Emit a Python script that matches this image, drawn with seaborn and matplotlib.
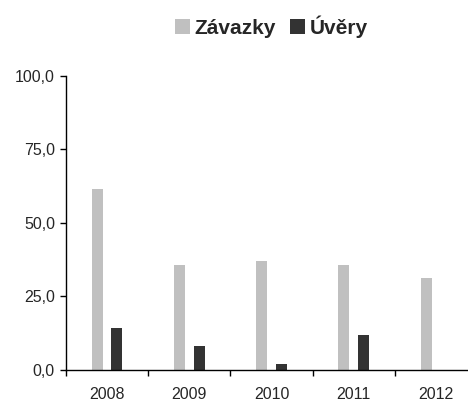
import pandas as pd
import numpy as np
import matplotlib.pyplot as plt
import seaborn as sns
from matplotlib.ticker import FuncFormatter, FixedLocator

# ── DATA ───────────────────────────────────────────────
years = ['2008', '2009', '2010', '2011', '2012']
zavazky = [61.6, 35.7, 37.1, 35.7, 31.3]
uvery = [14.3, 8.2, 2.0, 11.9, 0.0]
series_names = ['Závazky', 'Úvěry']
colors = ['#C0C0C0', '#333333']

df = pd.DataFrame({
    'rok': years * 2,
    'hodnota': zavazky + uvery,
    'serie': [series_names[0]] * len(years) + [series_names[1]] * len(years),
})

# ── PLOT ───────────────────────────────────────────────
sns.set_style('white')
plt.rcParams['font.family'] = ['Liberation Sans', 'DejaVu Sans']

fig = plt.figure(figsize=(4.68, 4.03), dpi=100)
ax = fig.add_axes([0.141, 0.082, 0.859, 0.7294])

sns.barplot(data=df, x='rok', y='hodnota', hue='serie', palette=colors,
            width=0.48, gap=0.44, ax=ax, saturation=1, linewidth=0)

ax.set_ylim(0, 100)
ax.set_xlim(-0.5, 4.39)
ax.set_yticks([0, 25, 50, 75, 100])
ax.yaxis.set_major_formatter(FuncFormatter(lambda v, p: f'{v:.1f}'.replace('.', ',')))
ax.set_xlabel('')
ax.set_ylabel('')

# category boundaries as minor ticks
ax.xaxis.set_minor_locator(FixedLocator(np.arange(-0.5, 5, 1)))
ax.tick_params(axis='x', which='major', length=0, labelsize=11.5, pad=12)
ax.tick_params(axis='x', which='minor', length=4, width=1, color='black', direction='out', bottom=True)
ax.tick_params(axis='y', length=4, width=1, color='black', direction='out', left=True,
               labelsize=11.5, pad=4)

sns.despine(ax=ax)
for s in ['left', 'bottom']:
    ax.spines[s].set_color('black')
    ax.spines[s].set_linewidth(1)

# legend on top
handles, labels = ax.get_legend_handles_labels()
ax.legend_.remove()
fig.legend(handles, labels, loc='center', bbox_to_anchor=(0.58, 0.934), ncol=2,
           frameon=False, prop={'weight': 'bold', 'size': 15},
           handlelength=0.7, handleheight=0.7, handletextpad=0.25,
           columnspacing=0.67, borderaxespad=0)

fig.savefig('out.png', dpi=100)
